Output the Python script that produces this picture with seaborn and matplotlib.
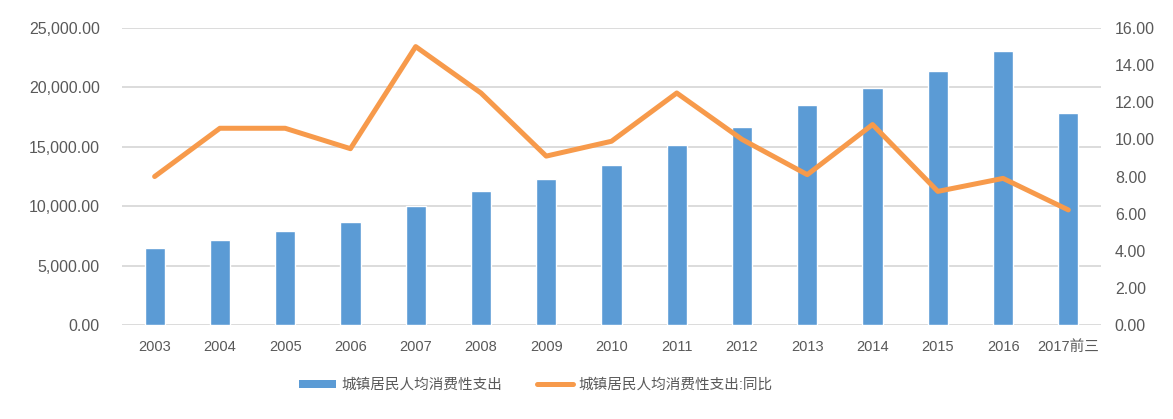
import numpy as np
import pandas as pd
import matplotlib
matplotlib.use('Agg')
import matplotlib.pyplot as plt
import seaborn as sns
from matplotlib.patches import Patch
from matplotlib.lines import Line2D
from matplotlib.ticker import FuncFormatter, MultipleLocator

# data
years = ['2003', '2004', '2005', '2006', '2007', '2008', '2009', '2010',
         '2011', '2012', '2013', '2014', '2015', '2016', '2017前三']
spending = [6511, 7182, 7943, 8697, 9997, 11243, 12265, 13471,
            15161, 16674, 18488, 19968, 21392, 23079, 17850]
yoy = [8.0, 10.6, 10.6, 9.5, 15.0, 12.5, 9.1, 9.9,
       12.5, 10.0, 8.1, 10.8, 7.2, 7.9, 6.2]
bar_label = '城镇居民人均消费性支出'
line_label = '城镇居民人均消费性支出:同比'

bar_color = '#5B9BD5'
line_color = '#F79A4B'
text_color = '#595959'

sns.set_style('white')
plt.rcParams['font.family'] = ['Liberation Sans', 'Noto Sans CJK SC', 'DejaVu Sans']

df = pd.DataFrame({'year': years, 'spending': spending, 'yoy': yoy, 'pos': np.arange(len(years))})

fig = plt.figure(figsize=(11.73, 4.19), dpi=100)
ax = fig.add_axes([0.104, 0.2243, 0.8346, 0.7088])

sns.barplot(data=df, x='year', y='spending', color=bar_color, width=0.31,
            saturation=1, ax=ax, zorder=2)
ax.set_ylim(0, 25000)
ax.yaxis.set_major_locator(MultipleLocator(5000))
ax.yaxis.set_major_formatter(FuncFormatter(lambda v, p: f'{v:,.2f}'))
ax.grid(axis='y', color='#D9D9D9', linewidth=1.3, zorder=0)
ax.set_axisbelow(True)
ax.set_xlabel('')
ax.set_ylabel('')
ax.tick_params(axis='y', length=0, pad=16, labelsize=11.5, labelcolor=text_color)
ax.tick_params(axis='x', length=0, pad=11, labelsize=10.5, labelcolor=text_color)

ax2 = ax.twinx()
sns.lineplot(data=df, x='pos', y='yoy', color=line_color, linewidth=3.6, ax=ax2)
ax2.set_ylim(0, 16)
ax2.yaxis.set_major_locator(MultipleLocator(2))
ax2.yaxis.set_major_formatter(FuncFormatter(lambda v, p: f'{v:.2f}'))
ax2.set_ylabel('')
ax2.set_xlabel('')
ax2.tick_params(axis='y', length=0, pad=10, labelsize=11.5, labelcolor=text_color)
ax.set_xlim(-0.5, len(years) - 0.5)

for a in (ax, ax2):
    for s in a.spines.values():
        s.set_visible(False)

handles = [Patch(facecolor=bar_color, edgecolor='none'),
           Line2D([0], [0], color=line_color, linewidth=3.6)]
fig.legend(handles, [bar_label, line_label], loc='center', bbox_to_anchor=(0.457, 0.081),
           ncol=2, frameon=False, fontsize=10.5, labelcolor=text_color,
           handlelength=2.5, handleheight=0.55, columnspacing=2.4, handletextpad=0.35)

fig.savefig('out.png', dpi=100)
